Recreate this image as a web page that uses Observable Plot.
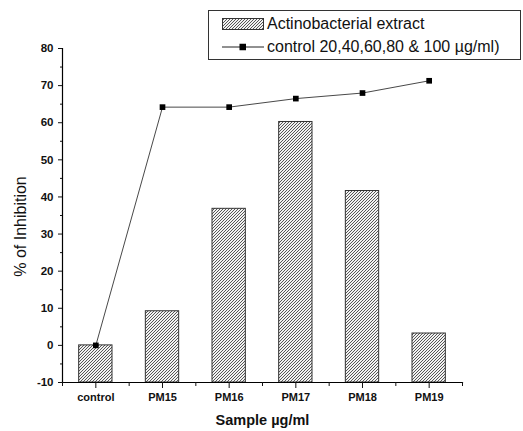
<!DOCTYPE html>
<html>
<head>
<meta charset="utf-8">
<script src="https://cdn.jsdelivr.net/npm/d3@7"></script>
<script src="https://cdn.jsdelivr.net/npm/@observablehq/plot@0.6"></script>
<style>
  body { margin: 0; background: #fff; }
  #wrap { position: relative; width: 523px; height: 431px; font-family: "Liberation Sans", Arial, sans-serif; }
  #legend { position: absolute; left: 208px; top: 10px; width: 313px; height: 50px; border: 1px solid #333; background: #fff; box-sizing: border-box; font-size: 16px; color: #111; }
  #legend .row { position: absolute; left: 13px; height: 18px; display: flex; align-items: center; line-height: 18px; }
  #legend svg { margin-right: 3px; }
</style>
</head>
<body>
<div id="wrap"></div>
<script>
const categories = ["control", "PM15", "PM16", "PM17", "PM18", "PM19"];
const extractValues = [0, 9.2, 36.8, 60.2, 41.6, 3.2];
const controlValues = [0, 64.2, 64.2, 66.5, 68.0, 71.3];
const yTicks = [-10, 0, 10, 20, 30, 40, 50, 60, 70, 80];
const seriesNames = ["Actinobacterial extract", "control 20,40,60,80 & 100 µg/ml)"];

const rows = categories.map((c, i) => ({i, category: c, extract: extractValues[i], control: controlValues[i]}));
const font = "Liberation Sans, Arial, sans-serif";

const chart = Plot.plot({
  width: 523,
  height: 431,
  marginLeft: 62,
  marginRight: 61,
  marginTop: 48,
  marginBottom: 49,
  style: {fontFamily: font, background: "#fff", color: "#111"},
  x: {domain: [-0.5, categories.length - 0.5]},
  y: {domain: [-10, 80]},
  marks: [
    Plot.rectY(rows, {x1: d => d.i - 0.25, x2: d => d.i + 0.25, y1: -10, y2: "extract", fill: "url(#hatch)", stroke: "#333", strokeWidth: 1}),
    Plot.lineY(rows, {x: "i", y: "control", stroke: "#333", strokeWidth: 0.9}),
    Plot.dot(rows, {x: "i", y: "control", symbol: "square", r: 3.2, fill: "#000", stroke: "none"}),
    Plot.frame({anchor: "left", stroke: "#000", strokeWidth: 1.2}),
    Plot.frame({anchor: "bottom", stroke: "#000", strokeWidth: 1.2}),
    Plot.axisY({ticks: yTicks, tickSize: 4, tickPadding: 5, label: null, fontWeight: "bold", fontSize: 11.5, tickFormat: d => d}),
    Plot.axisY({ticks: d3.range(-5, 80, 10), tickSize: 2, tickFormat: null, label: null, text: null}),
    Plot.axisX({ticks: d3.range(0, categories.length), tickSize: 6, tickPadding: 5, tickFormat: i => categories[i], label: null, fontWeight: "bold", fontSize: 11}),
    Plot.axisX({ticks: d3.range(-0.5, categories.length, 1), tickSize: 4, tickFormat: null, label: null, text: null}),
    Plot.text([0], {frameAnchor: "left", textAnchor: "middle", dx: -42, dy: 11, rotate: -90, text: () => "% of Inhibition", fontSize: 16, fill: "#111"}),
    Plot.text([0], {frameAnchor: "bottom", dy: 42, text: () => "Sample µg/ml", fontSize: 14.5, fontWeight: "bold", fill: "#111"})
  ]
});

d3.select(chart).insert("defs", ":first-child").html(`
  <pattern id="hatch" patternUnits="userSpaceOnUse" width="3" height="3">
    <rect width="3" height="3" fill="#f2f2f2"/>
    <path d="M-0.75,0.75 L0.75,-0.75 M0,3 L3,0 M2.25,3.75 L3.75,2.25" stroke="#3a3a3a" stroke-width="0.85"/>
  </pattern>`);

const wrap = document.getElementById("wrap");
wrap.appendChild(chart);

const legend = document.createElement("div");
legend.id = "legend";
legend.innerHTML = `
  <div class="row" style="top:4px">
    <svg width="42" height="12"><rect x="0.5" y="0.5" width="41" height="11" fill="url(#hatch)" stroke="#333"/></svg>
    <span>${seriesNames[0]}</span>
  </div>
  <div class="row" style="top:27px">
    <svg width="42" height="12"><line x1="0" x2="42" y1="6" y2="6" stroke="#222"/><rect x="17.5" y="2.75" width="6.5" height="6.5" fill="#000"/></svg>
    <span>${seriesNames[1]}</span>
  </div>`;
wrap.appendChild(legend);
</script>
</body>
</html>
